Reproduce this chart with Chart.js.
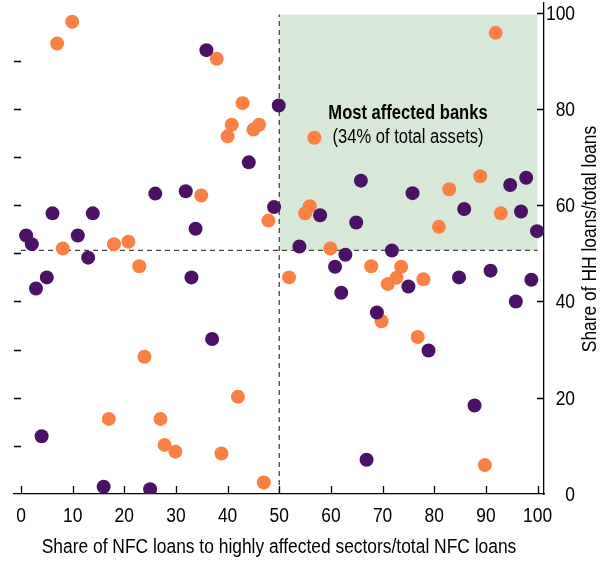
<!DOCTYPE html>
<html><head><meta charset="utf-8">
<script src="https://cdn.jsdelivr.net/npm/chart.js@4.4.1/dist/chart.umd.min.js"></script>
<style>html,body{margin:0;padding:0;background:#fff;}#wrap{width:608px;height:561px;position:relative;}</style>
</head><body><div id="wrap"><canvas id="c" width="608" height="561"></canvas></div>
<script>
// ---- data ----
const purpleX = [1.0, 2.1, 2.9, 5.0, 6.1, 4.0, 11.0, 13.0, 13.9, 16.0, 25.0, 26.0, 31.9, 33.0, 33.8, 35.9, 37.0, 44.1, 49.0, 49.9, 53.9, 57.9, 60.8, 62.0, 62.8, 64.9, 65.8, 66.9, 68.9, 71.8, 75.0, 75.8, 78.9, 84.8, 85.8, 87.8, 90.9, 94.7, 95.8, 96.8, 97.8, 98.8, 99.9];
const purpleY = [53.7, 51.9, 42.7, 45.0, 58.3, 12.0, 53.7, 49.1, 58.3, 1.5, 1.0, 62.4, 62.9, 45.0, 55.1, 92.2, 32.2, 68.9, 59.6, 80.7, 51.4, 57.9, 47.2, 41.8, 49.7, 56.4, 65.1, 7.1, 37.7, 50.6, 43.1, 62.5, 29.8, 45.0, 59.2, 18.4, 46.4, 64.2, 40.0, 58.7, 65.7, 44.5, 54.6];
const orangeX = [7.0, 9.9, 8.1, 17.0, 18.0, 20.8, 22.9, 23.9, 27.0, 27.8, 29.9, 34.9, 37.9, 38.8, 40.0, 40.8, 42.0, 42.9, 45.0, 46.1, 47.0, 47.9, 51.9, 55.0, 55.9, 59.9, 67.8, 69.8, 71.0, 72.7, 73.6, 76.8, 77.9, 80.9, 82.9, 88.9, 89.8, 91.9, 92.9];
const orangeY = [93.6, 98.1, 51.0, 15.6, 51.9, 52.4, 47.3, 28.5, 15.6, 10.2, 8.8, 62.0, 90.4, 8.4, 74.3, 76.7, 20.2, 81.2, 75.7, 76.7, 2.4, 56.8, 45.0, 58.3, 59.8, 51.0, 47.3, 35.9, 43.6, 44.9, 47.2, 32.6, 44.6, 55.5, 63.3, 66.0, 6.0, 95.8, 58.3];
const keyMarkerX = [56.8];
const keyMarkerY = [74.0];
const xTickValues = [0, 10, 20, 30, 40, 50, 60, 70, 80, 90, 100];
const yTickValues = [0, 20, 40, 60, 80, 100];
const yLeftTickValues = [10, 20, 30, 40, 50, 60, 70, 80, 90];
const xThreshold = 50;
const yThreshold = 50.6;
const regionMax = 99.6;
const xTitle = 'Share of NFC loans to highly affected sectors/total NFC loans';
const yTitle = 'Share of HH loans/total loans';
const annoTitle = 'Most affected banks';
const annoSub = '(34% of total assets)';

// ---- styles ----
const FONT = '"Liberation Sans", Arial, sans-serif';
const NARROW = 0.87;
const PURPLE = '#4b1166';
const ORANGE = '#fa8143';
const GREEN = 'rgb(216,232,216)';

const toPts = (xs, ys) => xs.map((x, i) => ({x: x, y: ys[i]}));

function drawText(ctx, txt, x, y, o) {
  ctx.save();
  ctx.translate(x, y);
  if (o.rotate) ctx.rotate(o.rotate);
  ctx.scale(o.narrow || NARROW, 1);
  ctx.font = (o.bold ? 'bold ' : '') + o.size + 'px ' + FONT;
  ctx.textAlign = o.align || 'center';
  ctx.textBaseline = 'alphabetic';
  ctx.fillStyle = '#000';
  ctx.fillText(txt, 0, 0);
  ctx.restore();
}

const decor = {
  id: 'decor',
  beforeDatasetsDraw(chart) {
    const {ctx, scales: {x, y}} = chart;
    ctx.save();
    const x0 = x.getPixelForValue(xThreshold), x1 = x.getPixelForValue(100);
    const y0 = y.getPixelForValue(yThreshold), y1 = y.getPixelForValue(regionMax);
    ctx.fillStyle = GREEN;
    ctx.fillRect(x0, y1, x1 - x0, y0 - y1);
    ctx.strokeStyle = '#444';
    ctx.lineWidth = 1.3;
    ctx.setLineDash([5, 4]);
    ctx.beginPath();
    ctx.moveTo(x0, y.getPixelForValue(0));
    ctx.lineTo(x0, y1);
    ctx.moveTo(x.getPixelForValue(0), y0);
    ctx.lineTo(x1, y0);
    ctx.stroke();
    ctx.setLineDash([]);
    ctx.strokeStyle = '#000';
    ctx.lineWidth = 1.3;
    ctx.beginPath();
    const {bottom, left, right} = chart.chartArea;
    xTickValues.forEach(v => { const px = Math.round(x.getPixelForValue(v)) + 0.5; ctx.moveTo(px, bottom); ctx.lineTo(px, bottom - 8); });
    yTickValues.forEach(v => { if (v === 0) return; const py = Math.round(y.getPixelForValue(v)) + 0.5; ctx.moveTo(right, py); ctx.lineTo(right - 7, py); });
    yLeftTickValues.forEach(v => { const py = Math.round(y.getPixelForValue(v)) + 0.5; ctx.moveTo(left, py); ctx.lineTo(left + 7, py); });
    ctx.stroke();
    ctx.restore();
  },
  afterDraw(chart) {
    const {ctx, scales: {x, y}} = chart;
    const {bottom, right} = chart.chartArea;
    xTickValues.forEach(v => drawText(ctx, String(v), x.getPixelForValue(v), bottom + 28, {size: 20}));
    yTickValues.forEach(v => drawText(ctx, String(v), right + 31, y.getPixelForValue(v) + 7, {size: 20, align: 'right'}));
    drawText(ctx, xTitle, 279, 552.5, {size: 20});
    drawText(ctx, yTitle, 596, 239, {size: 20, rotate: -Math.PI / 2});
    drawText(ctx, annoTitle, 408, 118.5, {size: 19.5, bold: true, narrow: 0.85});
    drawText(ctx, annoSub, 408, 143, {size: 19.5, narrow: 0.85});
  }
};

new Chart(document.getElementById('c'), {
  type: 'scatter',
  data: {
    datasets: [
      {label: 'Banks', data: toPts(purpleX, purpleY), backgroundColor: PURPLE, borderColor: PURPLE, borderWidth: 0, pointRadius: 7, pointHoverRadius: 7, yAxisID: 'y'},
      {label: 'Banks (orange)', data: toPts(orangeX, orangeY), backgroundColor: ORANGE, borderColor: ORANGE, borderWidth: 0, pointRadius: 7, pointHoverRadius: 7, yAxisID: 'y'},
      {label: 'Key', data: toPts(keyMarkerX, keyMarkerY), backgroundColor: ORANGE, borderColor: ORANGE, borderWidth: 0, pointRadius: 7, pointHoverRadius: 7, yAxisID: 'y'}
    ]
  },
  options: {
    responsive: false,
    animation: false,
    devicePixelRatio: 1,
    layout: {autoPadding: false, padding: {top: 3, left: 0, right: 0, bottom: 0}},
    plugins: {legend: {display: false}, tooltip: {enabled: false}},
    scales: {
      x: {
        type: 'linear', position: 'bottom', min: -1.35, max: 101.25,
        afterBuildTicks: s => { s.ticks = xTickValues.map(v => ({value: v})); },
        afterFit: s => { s.height = 67; },
        grid: {display: true, drawOnChartArea: false, drawTicks: false},
        border: {display: true, color: '#000', width: 1.3},
        ticks: {display: false}
      },
      y: {
        type: 'linear', position: 'right', min: 0, max: 102,
        afterBuildTicks: s => { s.ticks = yTickValues.map(v => ({value: v})); },
        afterFit: s => { s.width = 64; },
        grid: {display: true, drawOnChartArea: false, drawTicks: false},
        border: {display: true, color: '#000', width: 1.3},
        ticks: {display: false}
      },
      yL: {
        type: 'linear', position: 'left', min: 0, max: 102,
        afterFit: s => { s.width = 14; },
        grid: {display: false, drawTicks: false},
        border: {display: false},
        ticks: {display: false}
      }
    }
  },
  plugins: [decor]
});
</script>
</body></html>
